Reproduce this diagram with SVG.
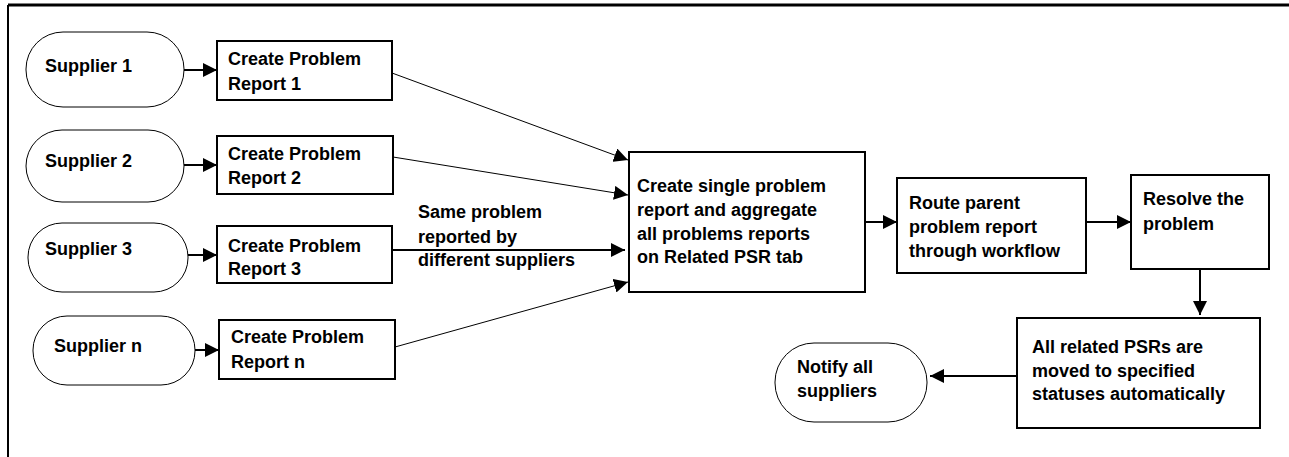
<svg xmlns="http://www.w3.org/2000/svg" width="1289" height="457" viewBox="0 0 1289 457">
<defs>
<style>
text{font-family:"Liberation Sans",Arial,sans-serif;font-weight:bold;font-size:18px;fill:#000}
.box{fill:#fff;stroke:#000;stroke-width:2}
.term{fill:#fff;stroke:#000;stroke-width:1}
.thick{stroke:#000;stroke-width:2;fill:none}
.thin{stroke:#000;stroke-width:1;fill:none}
</style>
<marker id="ah" markerUnits="userSpaceOnUse" markerWidth="15" markerHeight="14" refX="14" refY="7" orient="auto">
<path d="M0,0 L14,7 L0,14 Z" fill="#000"/>
</marker>
</defs>
<rect width="1289" height="457" fill="#fff"/>
<g id="frame">
<line x1="8" y1="5" x2="1289" y2="5" stroke="#000" stroke-width="3"/>
<line x1="8" y1="5" x2="8" y2="457" stroke="#000" stroke-width="2"/>
</g>
<g id="connectors">
<line class="thick" x1="184" y1="70" x2="217" y2="70" marker-end="url(#ah)"/>
<line class="thick" x1="184" y1="165" x2="217" y2="165" marker-end="url(#ah)"/>
<line class="thick" x1="188" y1="255" x2="217" y2="255" marker-end="url(#ah)"/>
<line class="thick" x1="195" y1="350" x2="219" y2="350" marker-end="url(#ah)"/>
<line class="thin" x1="392" y1="73" x2="628" y2="160" marker-end="url(#ah)"/>
<line class="thin" x1="393" y1="157" x2="628" y2="195" marker-end="url(#ah)"/>
<line class="thick" x1="392" y1="250" x2="625" y2="250" marker-end="url(#ah)"/>
<line class="thin" x1="395" y1="347" x2="628" y2="282" marker-end="url(#ah)"/>
<line class="thick" x1="865" y1="222" x2="897" y2="222" marker-end="url(#ah)"/>
<line class="thick" x1="1086" y1="222" x2="1131" y2="222" marker-end="url(#ah)"/>
<line class="thick" x1="1200" y1="269" x2="1200" y2="315" marker-end="url(#ah)"/>
<line class="thick" x1="1017" y1="376" x2="930" y2="376" marker-end="url(#ah)"/>
</g>
<g id="supplier1"><rect class="term" x="26" y="32" width="158" height="75" rx="37" ry="37"/><text x="45" y="72">Supplier 1</text></g>
<g id="supplier2"><rect class="term" x="26" y="130" width="158" height="72" rx="36" ry="36"/><text x="45" y="167">Supplier 2</text></g>
<g id="supplier3"><rect class="term" x="28" y="223" width="160" height="69" rx="34" ry="34"/><text x="45" y="255">Supplier 3</text></g>
<g id="suppliern"><rect class="term" x="33" y="316" width="162" height="69" rx="34" ry="34"/><text x="54" y="352">Supplier n</text></g>
<g id="report1"><rect class="box" x="217" y="41" width="175" height="59"/><text x="228" y="65">Create Problem</text><text x="228" y="90">Report 1</text></g>
<g id="report2"><rect class="box" x="217" y="136" width="176" height="58"/><text x="228" y="160">Create Problem</text><text x="228" y="184">Report 2</text></g>
<g id="report3"><rect class="box" x="217" y="226" width="175" height="57"/><text x="228" y="252">Create Problem</text><text x="228" y="275">Report 3</text></g>
<g id="reportn"><rect class="box" x="219" y="320" width="176" height="59"/><text x="231" y="343">Create Problem</text><text x="231" y="368">Report n</text></g>
<g id="label"><text x="418" y="218">Same problem</text><text x="418" y="243">reported by</text><text x="418" y="266">different suppliers</text></g>
<g id="aggregate"><rect class="box" x="629" y="152" width="236" height="140"/><text x="637" y="192">Create single problem</text><text x="637" y="216">report and aggregate</text><text x="637" y="240">all problems reports</text><text x="637" y="263">on Related PSR tab</text></g>
<g id="route"><rect class="box" x="897" y="178" width="189" height="95"/><text x="909" y="209">Route parent</text><text x="909" y="233">problem report</text><text x="909" y="257">through workflow</text></g>
<g id="resolve"><rect class="box" x="1131" y="175" width="138" height="94"/><text x="1143" y="205">Resolve the</text><text x="1143" y="230">problem</text></g>
<g id="moved"><rect class="box" x="1017" y="318" width="243" height="110"/><text x="1032" y="353">All related PSRs are</text><text x="1032" y="377">moved to specified</text><text x="1032" y="400">statuses automatically</text></g>
<g id="notify"><rect class="term" x="775" y="343" width="152" height="79" rx="39" ry="39"/><text x="797" y="373">Notify all</text><text x="797" y="397">suppliers</text></g>
</svg>
